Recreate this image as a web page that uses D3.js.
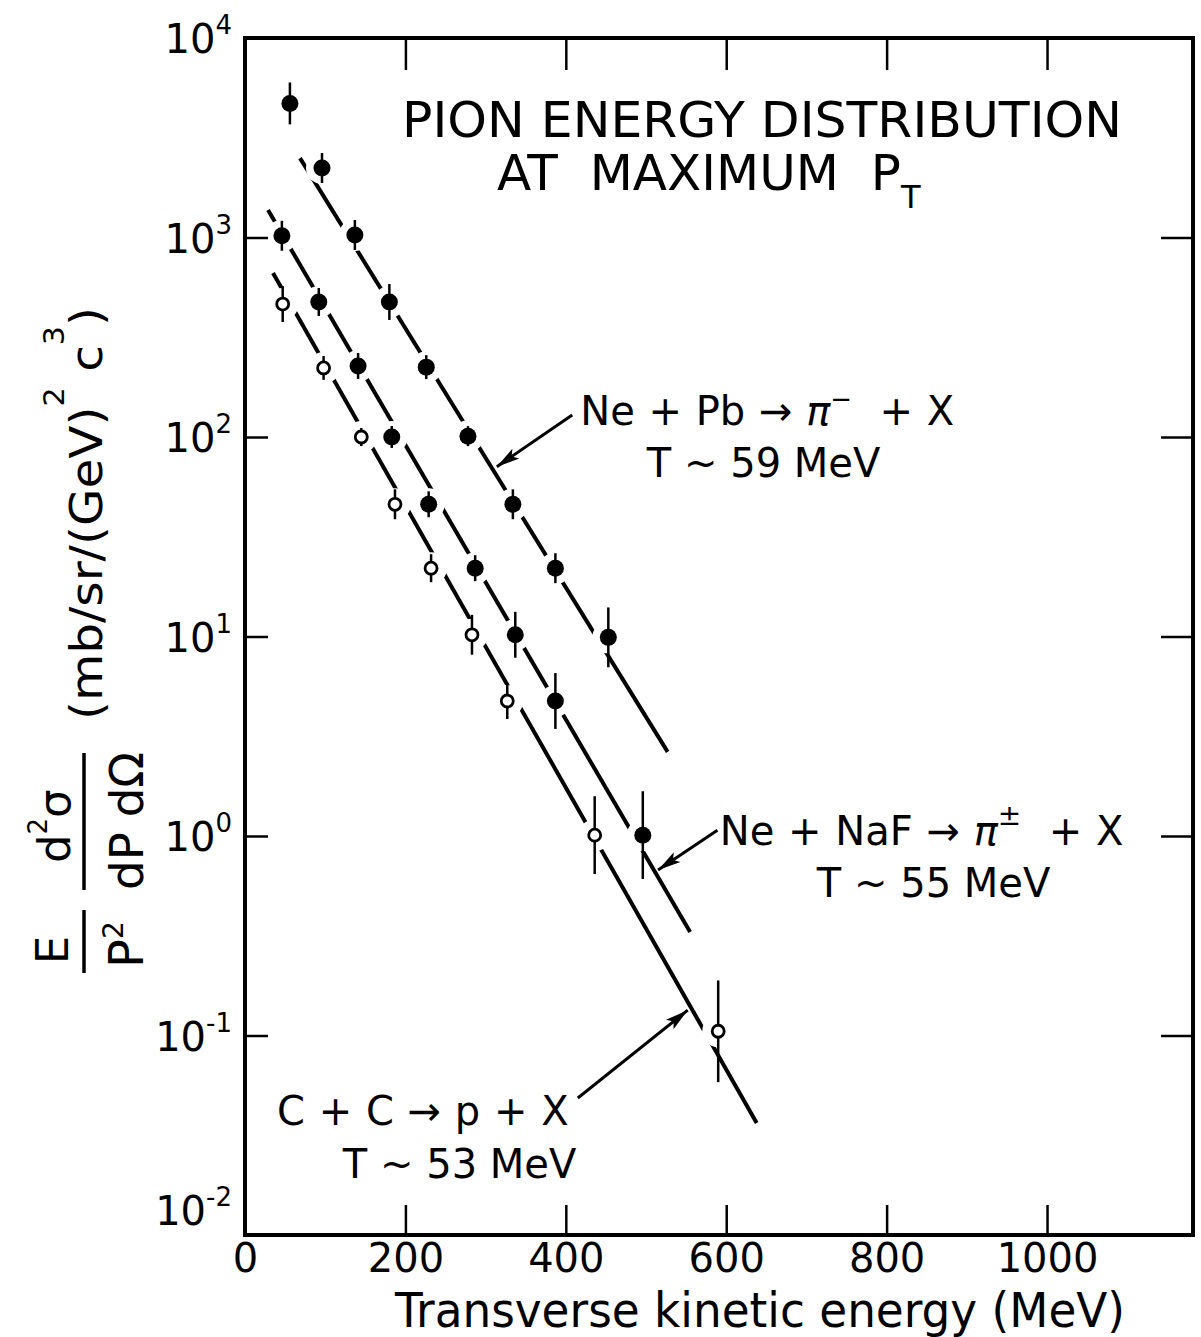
<!DOCTYPE html>
<meta charset="utf-8">
<head>
<style>
body { margin: 0; background: #fff; }
svg text { font-family: "DejaVu Sans", sans-serif; fill: #000; }
.frame { fill: none; stroke: #000; stroke-width: 4; }
.tick line { stroke: #000; stroke-width: 2.5; }
.fit { fill: none; stroke: #000; stroke-width: 4; }
.err { stroke: #000; stroke-width: 2.5; }
.halo { fill: #fff; }
.pointer { stroke: #000; stroke-width: 3; }
</style>
</head>
<body>
<svg width="1201" height="1337"></svg>
<script src="https://d3js.org/d3.v7.min.js"></script>
<script>

// Ne + Pb -> pi- + X  (filled)
var pbE   = [56, 96, 137, 180, 226, 278, 334, 387, 453];
var pbVal = [4700, 2230, 1030, 475, 224, 101, 46, 22, 9.9];
var pbErr = [0.105, 0.075, 0.075, 0.09, 0.06, 0.05, 0.075, 0.075, 0.15];   // half length, decades

// Ne + NaF -> pi+- + X  (filled)
var nafE   = [46, 92, 141, 183, 229, 287, 337, 387, 496];
var nafVal = [1020, 475, 227, 100, 46, 22, 10.2, 4.75, 1.01];
var nafErr = [0.075, 0.07, 0.065, 0.055, 0.065, 0.065, 0.115, 0.14, 0.22];

// C + C -> p + X  (open)
var ccE   = [47, 98, 145, 187, 232, 283, 327, 436, 590];
var ccVal = [464, 222, 100, 46, 22, 10.2, 4.75, 1.01, 0.105];
var ccErr = [0.09, 0.06, 0.045, 0.075, 0.07, 0.1, 0.09, 0.195, 0.255];

// fitted exponentials, end points [E, value]
var pbFit  = [[68.6, 2500], [527, 2.64]];
var nafFit = [[28.7, 1374], [555, 0.33]];
var ccFit  = [[34.9, 664], [638, 0.0364]];

var xTicks = [0, 200, 400, 600, 800, 1000];
var yTicks = [1e4, 1e3, 1e2, 1e1, 1e0, 1e-1, 1e-2];
var yExp   = ["4", "3", "2", "1", "0", "-1", "-2"];

var svg = d3.select("svg");

var x = d3.scaleLinear().domain([0, 1182]).range([245, 1193]);
var y = d3.scaleLog().domain([1e-2, 1e4]).range([1235, 38]);

var series = [
  {E: pbE,  v: pbVal,  err: pbErr,  fit: pbFit,  open: false},
  {E: nafE, v: nafVal, err: nafErr, fit: nafFit, open: false},
  {E: ccE,  v: ccVal,  err: ccErr,  fit: ccFit,  open: true}
];

var pts = [];
series.forEach(function(s) {
  s.E.forEach(function(e, i) {
    pts.push({E: e, v: s.v[i], err: s.err[i], open: s.open});
  });
});

var defs = svg.append("defs");
defs.append("marker")
    .attr("id", "head")
    .attr("viewBox", "-24 -8 26 16")
    .attr("markerUnits", "userSpaceOnUse")
    .attr("markerWidth", 26)
    .attr("markerHeight", 16)
    .attr("refX", 0).attr("refY", 0)
    .attr("orient", "auto")
  .append("path")
    .attr("d", "M0,0 L-23,-6 L-18,0 L-23,6 Z")
    .attr("fill", "#000");

// fit lines
var line = d3.line().x(function(d) { return x(d[0]); }).y(function(d) { return y(d[1]); });
svg.selectAll(".fit")
  .data(series)
  .enter().append("path")
    .attr("class", "fit")
    .attr("d", function(d) { return line(d.fit); });

// white gaps in the lines round each point
svg.selectAll(".halo")
  .data(pts)
  .enter().append("circle")
    .attr("class", "halo")
    .attr("cx", function(d) { return x(d.E); })
    .attr("cy", function(d) { return y(d.v); })
    .attr("r", 16);

// frame and ticks
var x0 = x.range()[0], x1 = x.range()[1], yb = y.range()[0], yt = y.range()[1];
svg.append("rect").attr("class", "frame")
    .attr("x", x0).attr("y", yt).attr("width", x1 - x0).attr("height", yb - yt);

function clean(g) { g.select(".domain").remove(); }

var xb = svg.append("g").attr("transform", "translate(0," + yb + ")")
    .call(d3.axisBottom(x).tickValues(xTicks).tickSize(-30).tickPadding(9).tickFormat(d3.format("d")))
    .call(clean);
xb.attr("font-size", 40).attr("font-family", null);

svg.append("g").attr("transform", "translate(0," + yt + ")")
    .call(d3.axisTop(x).tickValues(xTicks.slice(1)).tickSize(-32).tickFormat(""))
    .call(clean);

svg.append("g").attr("transform", "translate(" + x0 + ",0)")
    .call(d3.axisLeft(y).tickValues(yTicks.slice(1, 6)).tickSize(-23).tickFormat(""))
    .call(clean);

svg.append("g").attr("transform", "translate(" + x1 + ",0)")
    .call(d3.axisRight(y).tickValues(yTicks.slice(1, 6)).tickSize(-32).tickFormat(""))
    .call(clean);

// y tick labels 10^n
var yl = svg.selectAll(".ylab")
  .data(yTicks)
  .enter().append("text")
    .attr("class", "ylab")
    .attr("text-anchor", "end")
    .attr("x", 232)
    .attr("y", function(d, i) { return y(d) + 15 - (i === 6 ? 25 : 0); })
    .attr("font-size", 40);
yl.append("tspan").text("10");
yl.append("tspan").attr("dy", -19).attr("font-size", 26).text(function(d, i) { return yExp[i]; });

// error bars and points
svg.selectAll(".err")
  .data(pts)
  .enter().append("line")
    .attr("class", "err")
    .attr("x1", function(d) { return x(d.E); })
    .attr("x2", function(d) { return x(d.E); })
    .attr("y1", function(d) { return y(d.v * Math.pow(10, d.err)); })
    .attr("y2", function(d) { return y(d.v / Math.pow(10, d.err)); });

svg.selectAll(".pt")
  .data(pts)
  .enter().append("circle")
    .attr("class", "pt")
    .attr("cx", function(d) { return x(d.E); })
    .attr("cy", function(d) { return y(d.v); })
    .attr("r", function(d) { return d.open ? 6 : 8.5; })
    .attr("fill", function(d) { return d.open ? "#fff" : "#000"; })
    .attr("stroke", "#000")
    .attr("stroke-width", function(d) { return d.open ? 2.8 : 0; });

// pointers from labels to lines
var pointers = [
  [[408, 129], [314, 71]],
  [[589, 1.07], [515, 0.676]],
  [[415, 0.0486], [552, 0.134]]
];
svg.selectAll(".pointer")
  .data(pointers)
  .enter().append("line")
    .attr("class", "pointer")
    .attr("x1", function(d) { return x(d[0][0]); })
    .attr("y1", function(d) { return y(d[0][1]); })
    .attr("x2", function(d) { return x(d[1][0]); })
    .attr("y2", function(d) { return y(d[1][1]); })
    .attr("marker-end", "url(#head)");

function richText(px, py, size, parts, g) {
  var t = (g || svg).append("text").attr("x", px).attr("y", py).attr("font-size", size)
      .style("white-space", "pre");
  var raised = 0;
  parts.forEach(function(p) {
    var up = p.up || 0;
    var s = t.append("tspan").attr("dy", up - raised).text(p.t);
    raised = up;
    if (p.size) s.attr("font-size", p.size);
    if (p.italic) s.attr("font-style", "italic");
  });
  return t;
}

// reaction labels
richText(x(418), y(115), 40, [
  {t: "Ne + Pb \u2192 "}, {t: "\u03c0", italic: true}, {t: "\u2212", up: -17, size: 26}, {t: "  + X"}
]).attr("word-spacing", 1);
richText(x(501), y(63), 40, [{t: "T ~ 59 MeV"}]);

richText(x(592), y(0.90), 40, [
  {t: "Ne + NaF \u2192 "}, {t: "\u03c0", italic: true}, {t: "\u00b1", up: -20, size: 28}, {t: "  + X"}
]).attr("word-spacing", 1);
richText(x(713), y(0.494), 40, [{t: "T ~ 55 MeV"}]);

richText(x(40), y(0.0356), 40, [{t: "C + C \u2192 p + X"}]).attr("word-spacing", 1);
richText(x(122), y(0.0193), 40, [{t: "T ~ 53 MeV"}]);

// title
svg.append("text").attr("x", 402).attr("y", 137).attr("font-size", 50)
    .attr("textLength", 720).attr("lengthAdjust", "spacingAndGlyphs")
    .text("PION ENERGY DISTRIBUTION");
svg.append("text").attr("x", 497).attr("y", 190).attr("font-size", 50)
    .style("white-space", "pre").text("AT  MAXIMUM  P");
svg.append("text").attr("x", 901).attr("y", 208).attr("font-size", 32).text("T");

// x axis title
svg.append("text").attr("x", 395).attr("y", 1327).attr("font-size", 48)
    .attr("textLength", 730).attr("lengthAdjust", "spacingAndGlyphs")
    .text("Transverse kinetic energy (MeV)");

// y axis title, rotated
var yt2 = svg.append("g").attr("transform", "rotate(-90)");
yt2.append("text").attr("x", -950).attr("y", 68).attr("font-size", 45)
    .attr("text-anchor", "middle").text("E");
yt2.append("line").attr("x1", -973).attr("x2", -910).attr("y1", 84).attr("y2", 84)
    .attr("stroke", "#000").attr("stroke-width", 3.5);
richText(-968, 143, 48, [{t: "P"}, {t: "2", up: -20, size: 28}], yt2);

richText(-863, 70, 45, [{t: "d"}, {t: "2", up: -23, size: 26}, {t: "\u03c3"}], yt2);
yt2.append("line").attr("x1", -890).attr("x2", -753).attr("y1", 84).attr("y2", 84)
    .attr("stroke", "#000").attr("stroke-width", 3.5);
richText(-890, 143, 46, [{t: "dP d\u03a9"}], yt2)
    .attr("textLength", 138).attr("lengthAdjust", "spacingAndGlyphs");

richText(-720, 102, 45, [
  {t: "(mb/sr/(GeV)"}, {t: "2", up: -38, size: 28}, {t: " c"}, {t: "3", up: -38, size: 28}, {t: ")"}
], yt2).attr("textLength", 413).attr("lengthAdjust", "spacingAndGlyphs");

</script>
</body>
</html>
